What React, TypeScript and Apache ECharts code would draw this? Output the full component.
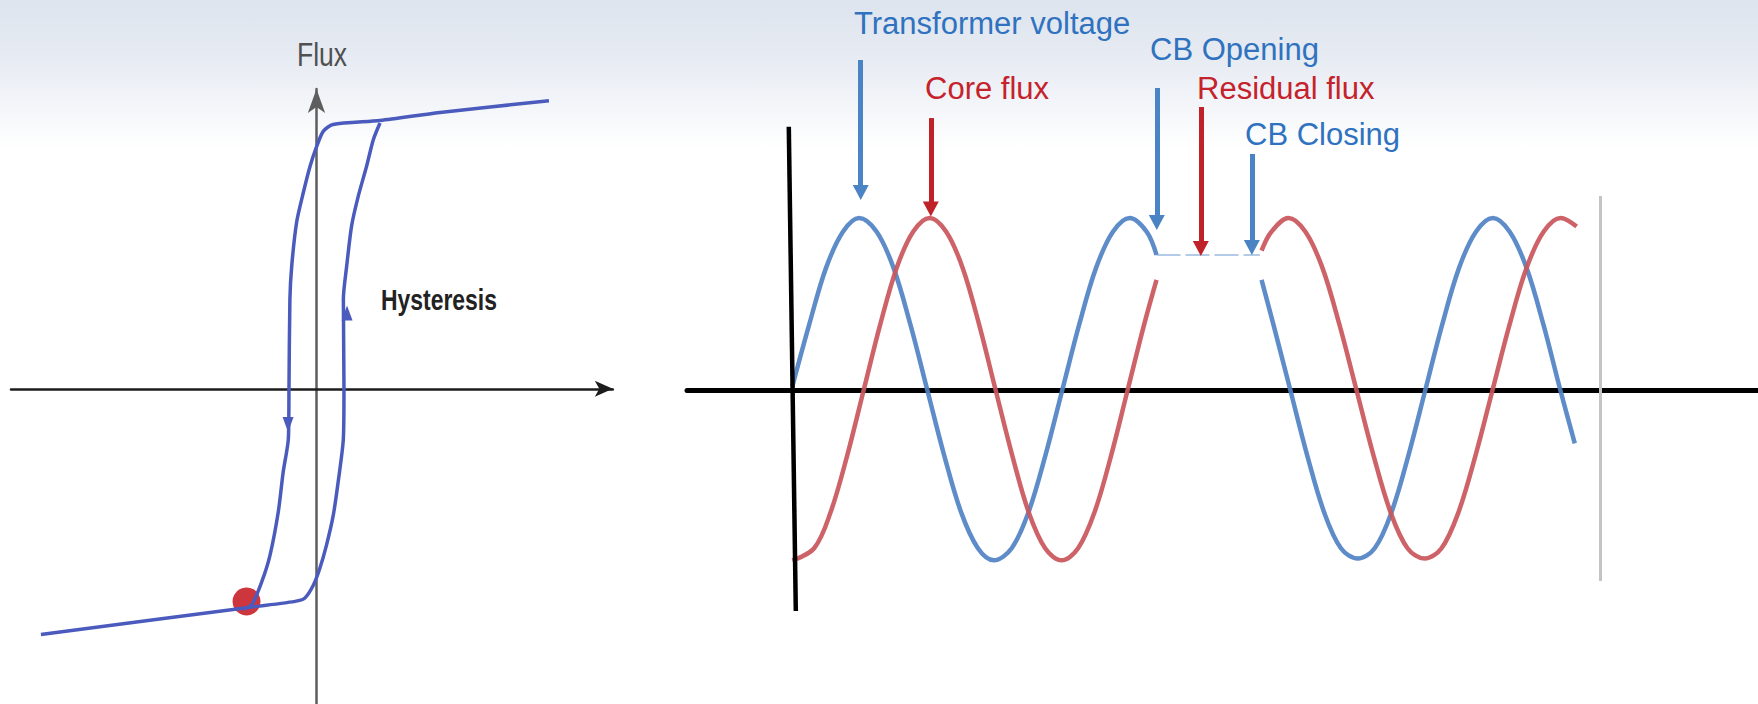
import React, { useEffect, useRef } from "react";
import * as echarts from "echarts";

// ---------- Left panel: hysteresis loop (H, flux) ----------
const LOOP_FALLING: [number, number][] = [
  [7.61, 9.32], [4.04, 8.94], [2.08, 8.68], [0.54, 8.55], [0.22, 8.33], [0.01, 7.85],
  [-0.21, 7.2], [-0.43, 6.35], [-0.65, 5.39], [-0.81, 3.98], [-0.87, 2.9], [-0.9, 0.03],
  [-0.92, -1.61], [-1.09, -2.69], [-1.25, -3.98], [-1.52, -5.38], [-1.79, -6.24],
  [-2.12, -6.99], [-2.41, -7.13],
];
const LOOP_RISING: [number, number][] = [
  [-9.02, -7.95], [-2.41, -7.1], [-0.7, -6.88], [-0.38, -6.77], [-0.1, -6.35], [0.11, -5.81],
  [0.33, -5.05], [0.55, -4.09], [0.71, -3.01], [0.88, -1.61], [0.9, 0.03], [0.88, 2.9],
  [0.99, 3.98], [1.15, 5.27], [1.37, 6.24], [1.64, 7.2], [1.86, 8.06], [2.08, 8.6],
];
const REMANENCE_POINT: [number, number][] = [[-2.29, -6.88]];
const LOOP_ARROW_DOWN: [number, number] = [-0.93, -1.16];
const LOOP_ARROW_UP: [number, number] = [1.0, 2.45];

// ---------- Right panel: waveforms (time in ms, per-unit) ----------
const VOLTAGE_BEFORE: [number, number][] = [
  [0, 0.02], [1.25, 0.38], [2.5, 0.71], [3.75, 0.92], [4.95, 1.0], [6.25, 0.92], [7.5, 0.71],
  [8.75, 0.38], [10, 0], [11.25, -0.38], [12.5, -0.71], [13.75, -0.92], [14.93, -0.99],
  [16.25, -0.92], [17.5, -0.71], [18.75, -0.38], [20, 0], [21.25, 0.38], [22.5, 0.71],
  [23.75, 0.92], [25, 1.0], [26.25, 0.92], [26.98, 0.785],
];
const FLUX_BEFORE: [number, number][] = [
  [0, -0.99], [1.62, -0.92], [2.84, -0.71], [4.07, -0.38], [5.29, 0], [6.51, 0.38],
  [7.73, 0.71], [8.95, 0.92], [10.18, 1.0], [11.4, 0.92], [12.62, 0.71], [13.84, 0.38],
  [15.06, 0], [16.29, -0.38], [17.51, -0.71], [18.73, -0.92], [19.95, -0.99], [21.17, -0.92],
  [22.39, -0.71], [23.62, -0.38], [24.84, 0], [26.06, 0.38], [26.98, 0.64],
];
const RESIDUAL_LEVEL: [number, number][] = [[26.98, 0.785], [34.63, 0.785]];
const VOLTAGE_AFTER: [number, number][] = [
  [34.76, 0.64], [35.64, 0.38], [36.89, 0], [38.14, -0.38], [39.39, -0.71], [40.64, -0.92],
  [41.89, -0.98], [43.14, -0.92], [44.39, -0.71], [45.64, -0.38], [46.89, 0], [48.14, 0.38],
  [49.39, 0.71], [50.64, 0.92], [51.89, 1.0], [53.14, 0.92], [54.39, 0.71], [55.64, 0.38],
  [56.89, 0], [57.96, -0.31],
];
const FLUX_AFTER: [number, number][] = [
  [34.76, 0.81], [35.49, 0.92], [36.75, 1.0], [38.01, 0.92], [39.27, 0.71], [40.53, 0.38],
  [41.79, 0], [43.05, -0.38], [44.31, -0.71], [45.57, -0.92], [46.83, -0.98], [48.09, -0.92],
  [49.35, -0.71], [50.61, -0.38], [51.87, 0], [53.13, 0.38], [54.39, 0.71], [55.65, 0.92],
  [56.91, 1.0], [58.1, 0.95],
];
// reference lines
const TIME_AXIS_LINE: [number, number][] = [[-0.26, 1.53], [0.26, -1.285]];
const END_MARKER_LINE: [number, number][] = [[59.85, 1.128], [59.85, -1.11]];

// annotation arrows: time, start value, end value
const ARROW_NAMES = ["Transformer voltage", "Core flux", "CB Opening", "Residual flux", "CB Closing"];
const ARROW_TIMES = [5.07, 10.26, 27.0, 30.26, 34.04];
const ARROW_FROM = [1.919, 1.581, 1.756, 1.645, 1.372];
const ARROW_TO = [1.148, 1.052, 0.974, 0.823, 0.828];
const ARROW_KIND = ["v", "f", "v", "f", "v"];

const BLUE_TEXT = "#2f72bf";
const RED_TEXT = "#c5222b";
const BLUE_ARROW = "#4a84c4";
const RED_ARROW = "#c0222a";
const BLUE_WAVE = "#4f82c3";
const RED_WAVE = "#c9565b";
const LOOP_BLUE = "#4a5bbd";
const FONT = '"Liberation Sans", Arial, Helvetica, sans-serif';

export default function App() {
  const ref = useRef<HTMLDivElement>(null);
  useEffect(() => {
    if (!ref.current) return;
    const chart = echarts.init(ref.current, undefined, { renderer: "svg" });

    const arrowData = ARROW_TIMES.map((t, i) => [
      {
        coord: [t, ARROW_FROM[i]],
        lineStyle: { color: ARROW_KIND[i] === "v" ? BLUE_ARROW : RED_ARROW, width: 5, type: "solid" },
        itemStyle: { color: ARROW_KIND[i] === "v" ? BLUE_ARROW : RED_ARROW },
        name: ARROW_NAMES[i],
      },
      { coord: [t, ARROW_TO[i]] },
    ]);

    const labelDefs = [
      { text: "Transformer voltage", x: 854, y: 23, color: BLUE_TEXT },
      { text: "CB Opening", x: 1150, y: 49.5, color: BLUE_TEXT },
      { text: "Core flux", x: 925, y: 88.5, color: RED_TEXT },
      { text: "Residual flux", x: 1197, y: 88.5, color: RED_TEXT },
      { text: "CB Closing", x: 1245, y: 134.5, color: BLUE_TEXT },
    ];

    const waveLine = (data: [number, number][], color: string, name: string, extra: any = {}) => ({
      type: "line", xAxisIndex: 1, yAxisIndex: 1, silent: true, name,
      data, showSymbol: false, smooth: 0.35,
      lineStyle: { color, width: 4.5, opacity: 0.92 },
      ...extra,
    });

    const option: any = {
      animation: false,
      graphic: [
        {
          type: "rect",
          z: -10,
          silent: true,
          shape: { x: 0, y: 0, width: 1758, height: 704 },
          style: {
            fill: {
              type: "linear", x: 0, y: 0, x2: 0, y2: 1,
              colorStops: [
                { offset: 0, color: "#dde4ee" },
                { offset: 0.09, color: "#e8ecf3" },
                { offset: 0.16, color: "#f5f7fa" },
                { offset: 0.21, color: "#ffffff" },
                { offset: 1, color: "#ffffff" },
              ],
            },
          },
        },
        {
          type: "text", x: 297, y: 54, z: 100, scaleX: 0.78,
          style: { text: "Flux", fill: "#505050", fontSize: 34, fontFamily: FONT, align: "left", verticalAlign: "middle" },
        },
        {
          type: "text", x: 381, y: 300, z: 100, scaleX: 0.79,
          style: { text: "Hysteresis", fill: "#222222", fontSize: 29, fontWeight: "bold", fontFamily: FONT, align: "left", verticalAlign: "middle" },
        },
        ...labelDefs.map((d) => ({
          type: "text", x: d.x, y: d.y, z: 100,
          style: { text: d.text, fill: d.color, fontSize: 31, fontFamily: FONT, align: "left", verticalAlign: "middle" },
        })),
      ],
      grid: [
        { left: 11, top: 89, width: 601.8, height: 616.9, containLabel: false },
        { left: 687, top: 3, width: 1070.55, height: 662.2, containLabel: false },
      ],
      xAxis: [
        {
          gridIndex: 0, type: "value", min: -10, max: 9.7,
          axisLine: { show: true, onZero: true, symbol: ["none", "arrow"], symbolSize: [12, 18], lineStyle: { color: "#1c1c1c", width: 2.5 } },
          axisTick: { show: false }, axisLabel: { show: false }, splitLine: { show: false },
        },
        {
          gridIndex: 1, type: "value", min: -7.8, max: 71.5,
          axisLine: { show: true, onZero: true, lineStyle: { color: "#000000", width: 5 } },
          axisTick: { show: false }, axisLabel: { show: false }, splitLine: { show: false },
        },
      ],
      yAxis: [
        {
          gridIndex: 0, type: "value", min: -10.2, max: 9.7,
          axisLine: { show: true, onZero: true, symbol: ["none", "arrow"], symbolSize: [13, 24], lineStyle: { color: "#5e5e5e", width: 2.5 } },
          axisTick: { show: false }, axisLabel: { show: false }, splitLine: { show: false },
        },
        {
          gridIndex: 1, type: "value", min: -1.6, max: 2.25,
          axisLine: { show: false }, axisTick: { show: false }, axisLabel: { show: false }, splitLine: { show: false },
        },
      ],
      series: [
        {
          type: "scatter", xAxisIndex: 0, yAxisIndex: 0, z: 1, silent: true,
          data: REMANENCE_POINT, symbolSize: 28, itemStyle: { color: "#c9252d", opacity: 0.92 },
        },
        {
          type: "line", xAxisIndex: 0, yAxisIndex: 0, z: 3, silent: true,
          data: LOOP_FALLING, showSymbol: false, smooth: 0.25,
          lineStyle: { color: LOOP_BLUE, width: 3.5 },
          markPoint: {
            silent: true,
            label: { show: false },
            itemStyle: { color: LOOP_BLUE },
            data: [
              { coord: LOOP_ARROW_DOWN, symbol: "triangle", symbolRotate: 180, symbolSize: [11, 15] },
              { coord: LOOP_ARROW_UP, symbol: "triangle", symbolSize: [11, 15] },
            ],
          },
        },
        {
          type: "line", xAxisIndex: 0, yAxisIndex: 0, z: 3, silent: true,
          data: LOOP_RISING, showSymbol: false, smooth: 0.25,
          lineStyle: { color: LOOP_BLUE, width: 3.5 },
        },
        {
          type: "line", xAxisIndex: 1, yAxisIndex: 1, silent: true, name: "Residual flux level",
          data: RESIDUAL_LEVEL, showSymbol: false,
          lineStyle: { color: "#b3cbe6", width: 2, type: [24, 5] },
          markLine: {
            silent: true,
            symbol: ["none", "none"],
            label: { show: false },
            data: [
              [
                { coord: TIME_AXIS_LINE[0], lineStyle: { color: "#000000", width: 4.5, type: "solid" } },
                { coord: TIME_AXIS_LINE[1] },
              ],
              [
                { coord: END_MARKER_LINE[0], lineStyle: { color: "#c4c4c4", width: 3, type: "solid" } },
                { coord: END_MARKER_LINE[1] },
              ],
            ],
          },
        },
        waveLine(VOLTAGE_BEFORE, BLUE_WAVE, "Transformer voltage"),
        waveLine(FLUX_BEFORE, RED_WAVE, "Core flux"),
        waveLine(VOLTAGE_AFTER, BLUE_WAVE, "Transformer voltage (after)"),
        waveLine(FLUX_AFTER, RED_WAVE, "Core flux (after)", {
          markLine: {
            silent: true,
            symbol: ["none", "triangle"],
            symbolSize: [16, 15],
            label: { show: false },
            data: arrowData,
          },
        }),
      ],
    };
    chart.setOption(option);
    return () => chart.dispose();
  }, []);

  return (
    <div
      ref={ref}
      style={{ position: "fixed", left: 0, top: 0, width: 1758, height: 704, background: "#ffffff" }}
    />
  );
}
